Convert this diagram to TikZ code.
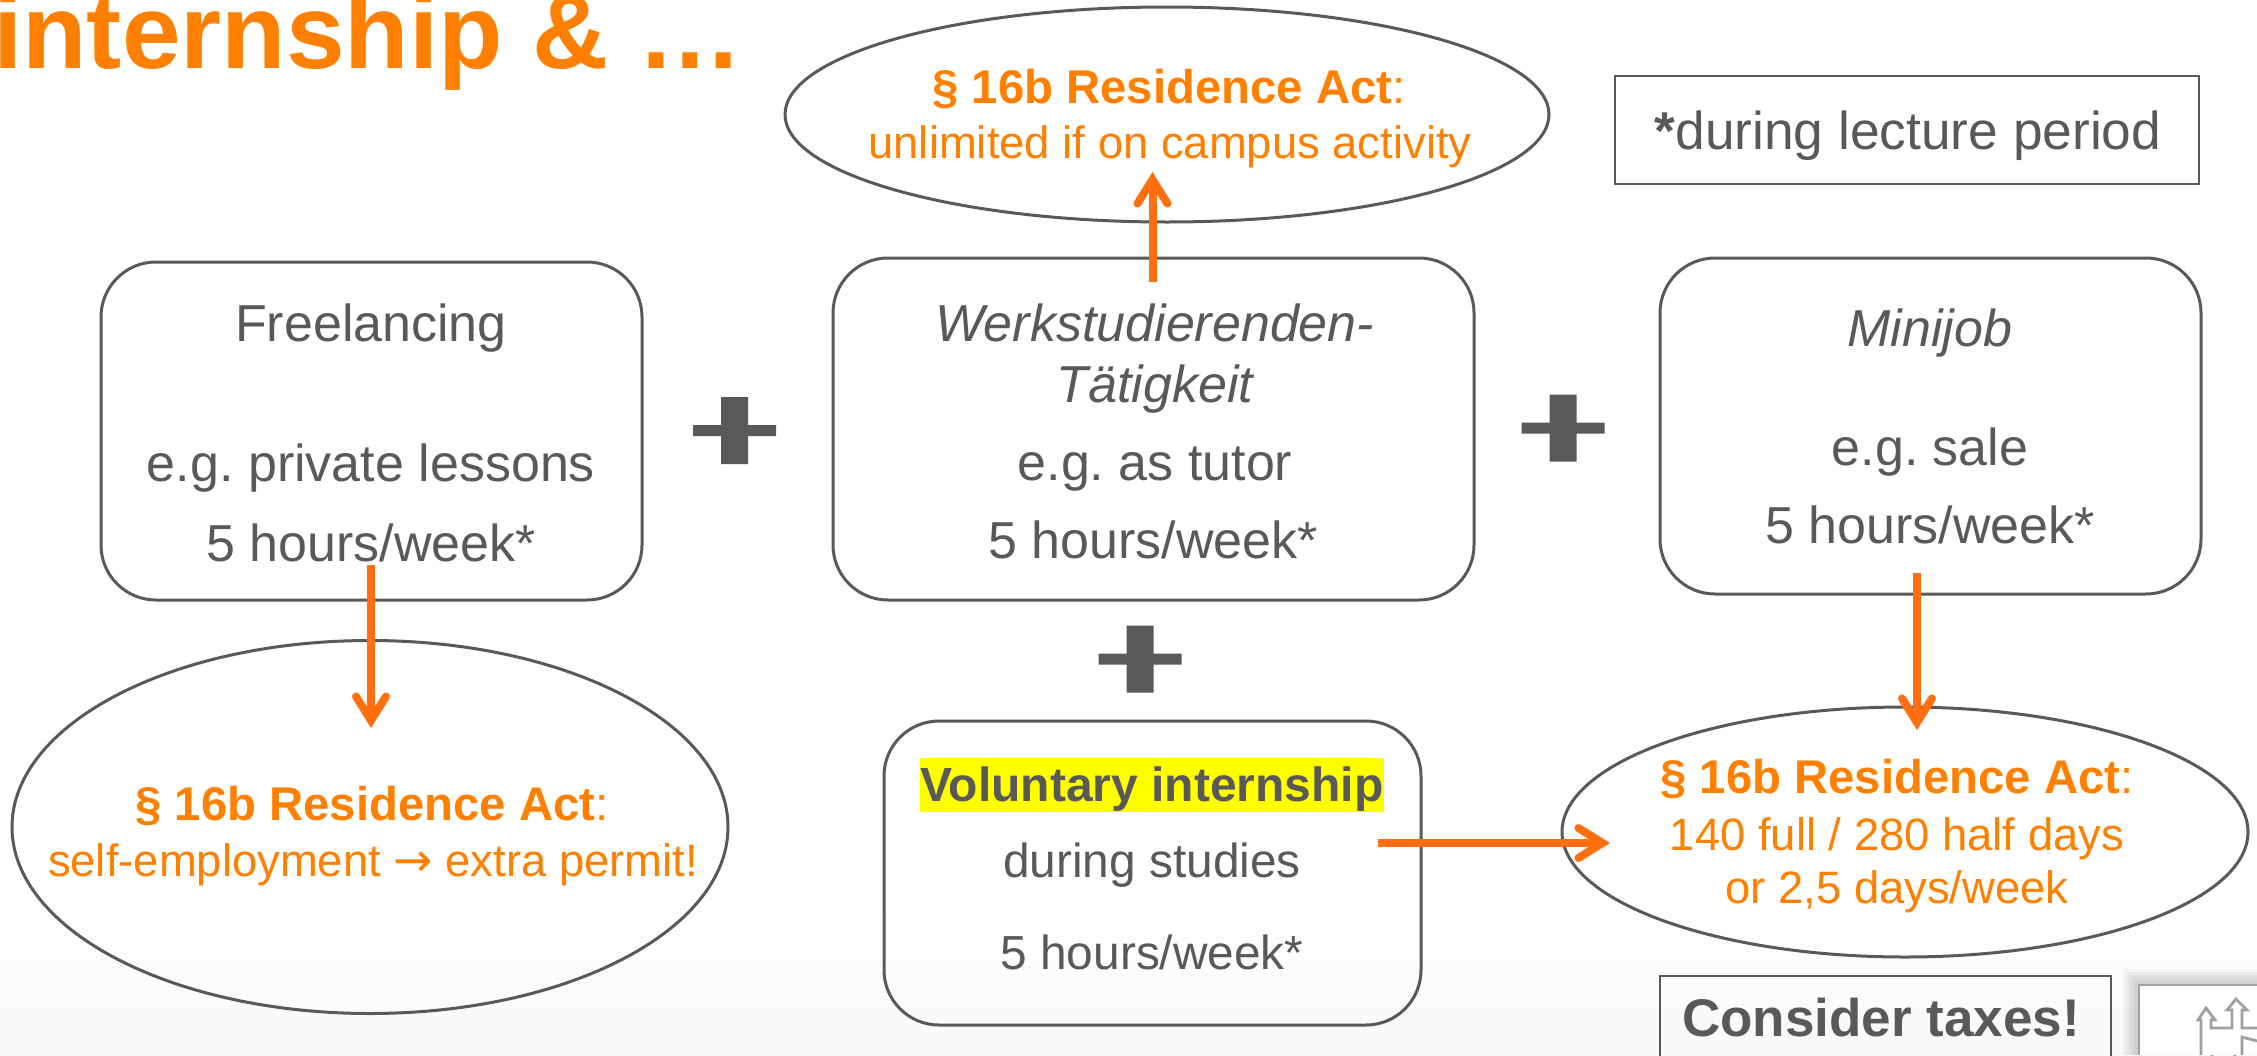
\documentclass[tikz,border=0pt]{standalone}
\usepackage{fontspec}
\setmainfont{Liberation Sans}
\usetikzlibrary{shapes.geometric,arrows.meta,shadows}
\frenchspacing
\definecolor{txtgray}{HTML}{595959}
\definecolor{ttlorange}{HTML}{FF8000}
\definecolor{arrorange}{HTML}{FF6F0F}
\definecolor{edgegray}{HTML}{595959}
\definecolor{crestgray}{HTML}{A0A0A0}
\definecolor{marker}{RGB}{255,255,0}
\newcommand{\fsz}[1]{\fontsize{#1}{#1}\selectfont}
\tikzset{
 x=1pt,y=-1pt,
 body/.style={text=txtgray,font=\fsz{52}},
 legal/.style={text=ttlorange,font=\fsz{47.3},align=center},
 legalsmall/.style={text=ttlorange,font=\fsz{45.4},align=center},
 roundbox/.style={draw=edgegray,line width=3pt,rounded corners=55pt},
 oval/.style={draw=edgegray,line width=3pt},
 plain/.style={draw=edgegray,line width=2.4pt},
 flow/.style={draw=arrorange,line width=8pt,-{Straight Barb[length=24pt,width=30pt,line width=8pt,line cap=round,line join=miter]}},
 plusmark/.style={fill=txtgray,draw=none},
}
\newcommand{\plussign}[2]{%
 \fill[plusmark] (#1-41.5,#2-5.5) -- (#1-13.5,#2-5.5) -- (#1-13.5,#2-33.5) -- (#1+13.5,#2-33.5) -- (#1+13.5,#2-5.5) -- (#1+41.5,#2-5.5) -- (#1+41.5,#2+5.5) -- (#1+13.5,#2+5.5) -- (#1+13.5,#2+33.5) -- (#1-13.5,#2+33.5) -- (#1-13.5,#2+5.5) -- (#1-41.5,#2+5.5) -- cycle;}
\begin{document}
\begin{tikzpicture}
\useasboundingbox (0,0) rectangle (2257,1055);
\shade[top color=white,bottom color=white!97.5!black] (0,895) rectangle (2257,1055);
\node[anchor=base west,inner sep=0,text=ttlorange,font=\bfseries\fsz{105.5}] (title) at (-7,68) {internship \& …};
% boxes
\draw[roundbox] (101,262) rectangle (642,600);
\draw[roundbox] (833,258) rectangle (1474,600);
\draw[roundbox] (1660,258) rectangle (2201,594);
\draw[roundbox] (884,721) rectangle (1421,1025);
% ovals
\draw[oval] (1167,114.5) ellipse [x radius=382,y radius=107.5];
\draw[oval] (370,827) ellipse [x radius=358,y radius=186.5];
\draw[oval] (1905,832) ellipse [x radius=343,y radius=125];
\draw[plain] (1615,76) rectangle (2199,184);
\draw[plain] (2111,1060) -- (2111,976) -- (1660,976) -- (1660,1060);
\node[anchor=base,body,font=\fsz{53.3}] (lec) at (1908,149) {\textbf{*}during lecture period};
\node[anchor=base,body] (t1) at (371,341) {Freelancing};
\node[anchor=base,body] (t2) at (371,481) {e.g. private lessons};
\node[anchor=base,body] (t3) at (371,561) {5 hours/week*};
\node[anchor=base,body] (t4) at (1155,341) {\itshape Werkstudierenden-};
\node[anchor=base,body] (t5) at (1155,402) {\itshape Tätigkeit};
\node[anchor=base,body] (t6) at (1155,480) {e.g. as tutor};
\node[anchor=base,body] (t7) at (1153,558) {5 hours/week*};
\node[anchor=base,body] (t8) at (1930,346) {\itshape Minijob};
\node[anchor=base,body] (t9) at (1930,465) {e.g. sale};
\node[anchor=base,body] (t10) at (1930,543) {5 hours/week*};
\fill[marker] (920,758) rectangle (1384,812);
\node[anchor=base,body,font=\bfseries\fsz{48}] (t11) at (1152,801) {Voluntary internship};
\node[anchor=base,body,font=\fsz{47.8}] (t12) at (1152,877) {during studies};
\node[anchor=base,body,font=\fsz{47.8}] (t13) at (1152,969) {5 hours/week*};
\node[anchor=base,legal] (l1) at (1169,103) {\textbf{§ 16b Residence Act}:};
\node[anchor=base,legalsmall] (l2) at (1170,158) {unlimited if on campus activity};
\node[anchor=base,legal] (l3) at (372,820) {\textbf{§ 16b Residence Act}:};
\node[anchor=base,legalsmall] (l4) at (373,876) {self-employment {\fontspec{DejaVu Sans}\fsz{47}→} extra permit!};
\node[anchor=base,legal] (l5) at (1897,793) {\textbf{§ 16b Residence Act}:};
\node[anchor=base,legalsmall] (l6) at (1897,850) {140 full / 280 half days};
\node[anchor=base,legalsmall] (l7) at (1897,903) {or 2,5 days/week};
\node[anchor=base,body,font=\bfseries\fsz{53}] (tax) at (1881,1036) {Consider taxes!};
% connectors
\coordinate (a1s) at (371,565); \coordinate (a1e) at (371,728);
\coordinate (a2s) at (1152.5,282); \coordinate (a2e) at (1152.5,172);
\coordinate (a3s) at (1917,573); \coordinate (a3e) at (1917,730);
\coordinate (a4s) at (1378,843); \coordinate (a4e) at (1610,843);
\draw[flow] (a1s) -- (a1e);
\draw[flow] (a2s) -- (a2e);
\draw[flow] (a3s) -- (a3e);
\draw[flow] (a4s) -- (a4e);
\plussign{734.5}{430.5}
\plussign{1563}{428}
\plussign{1140}{659}
% logo box with soft shadow
\foreach \s in {16,13,10,7,4}{\fill[black,opacity=0.035] (2139-\s,985-\s) rectangle (2257,1055);}
\fill[white] (2139,985) rectangle (2257,1055);
\draw[crestgray,line width=2pt] (2257,985) -- (2139,985) -- (2139,1055);
\draw[crestgray,line width=2.8pt,line join=miter]
  (2201,1055) -- (2201,1020) -- (2198,1020) -- (2206,1008) -- (2215,1020) -- (2211,1020) -- (2211,1028)
  -- (2232,1028) -- (2232,1010) -- (2227,1010) -- (2236,999) -- (2247,1010) -- (2242,1010) -- (2242,1028) -- (2257,1028);
\draw[crestgray,line width=2.8pt] (2212,1055) arc [start angle=180,end angle=120,radius=30] -- (2235,1055);
\draw[crestgray,line width=2.8pt] (2242,1055) -- (2242,1037) -- (2257,1041);
\end{tikzpicture}
\end{document}
